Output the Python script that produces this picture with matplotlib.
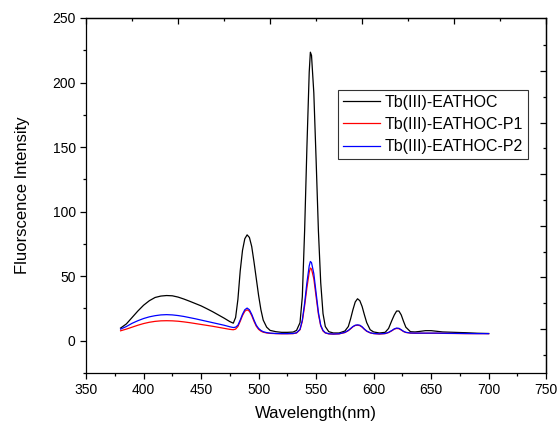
import matplotlib
matplotlib.use("Agg")
import matplotlib.pyplot as plt
from matplotlib.ticker import MultipleLocator, FixedLocator, NullFormatter

plt.rcParams['font.family'] = ['Liberation Sans', 'DejaVu Sans']

# wavelength grid (nm)
wavelength = [380, 385, 390, 395, 400, 405, 410, 415, 420, 425, 430, 435, 440, 445,
              450, 455, 460, 465, 470, 475, 478, 480, 482, 484, 486, 488, 490, 492,
              494, 496, 498, 500, 502, 504, 507, 510, 515, 520, 525, 530, 533, 536,
              538, 540, 542, 544, 545, 546, 548, 550, 552, 554, 556, 558, 561, 565,
              570, 575, 578, 580, 582, 584, 586, 588, 590, 592, 594, 597, 600, 605,
              610, 613, 616, 618, 620, 622, 624, 626, 628, 632, 636, 640, 645, 650,
              655, 660, 670, 680, 690, 700]

# Tb(III)-EATHOC
tb = [9.8, 13, 18, 23, 27.5, 31, 33.5, 34.6, 35, 34.8, 33.8, 32.3, 30.6, 28.8,
      27, 24.8, 22.5, 20, 17.5, 14.8, 13.6, 18, 32, 54, 70, 79, 82, 80,
      73, 61, 48, 35, 24, 16, 10.5, 8, 7, 6.5, 6.5, 6.7, 8, 14,
      34, 85, 150, 208, 223.5, 221, 192, 140, 85, 45, 21, 11, 7, 6,
      6, 7.5, 11, 17, 24, 30, 32.5, 31, 26.5, 20, 14, 8.5, 6.8, 6,
      6.5, 9.5, 16, 20, 23, 23, 20, 15, 10.5, 7, 6.8, 7.2, 7.8, 7.8,
      7.3, 6.8, 6.5, 6.2, 5.8, 5.6]

# Tb(III)-EATHOC-P1
p1 = [7.7, 9, 10.5, 12, 13.3, 14.3, 15, 15.4, 15.5, 15.4, 15.1, 14.6, 14, 13.3,
      12.6, 11.9, 11.2, 10.4, 9.6, 8.8, 8.5, 9, 11, 15, 19.5, 22.8, 24, 22.8,
      19.5, 15, 11.2, 8.8, 7.4, 6.6, 6, 5.7, 5.5, 5.4, 5.4, 5.5, 6, 8.5,
      15, 27, 41, 53, 56.3, 55.5, 48, 34, 20.5, 11.5, 7.5, 6, 5.3, 5.1,
      5.3, 6.3, 7.8, 9.2, 10.8, 11.8, 12, 11.7, 10.5, 8.8, 7.3, 6.1, 5.5, 5.2,
      5.5, 6.3, 7.8, 9, 9.5, 9.3, 8.3, 7.1, 6.4, 5.9, 5.8, 5.8, 5.8, 5.8,
      5.8, 5.7, 5.6, 5.5, 5.5, 5.5]

# Tb(III)-EATHOC-P2
p2 = [9, 11, 13.5, 15.5, 17.2, 18.5, 19.4, 20, 20.2, 20, 19.5, 18.8, 17.9, 17,
      16, 15, 14, 13, 12, 10.8, 10.2, 10.5, 12, 16, 20.5, 24, 25.3, 24,
      20.5, 16, 12, 9.5, 8, 7, 6.3, 5.9, 5.6, 5.5, 5.5, 5.6, 6.2, 8.8,
      16, 29, 45, 58, 61.4, 60.5, 52, 37, 22, 12, 8, 6.2, 5.4, 5.2,
      5.4, 6.5, 8, 9.5, 11, 12, 12.3, 12, 10.8, 9, 7.5, 6.2, 5.6, 5.3,
      5.6, 6.5, 8, 9.2, 9.8, 9.6, 8.5, 7.3, 6.5, 6, 5.9, 5.9, 5.9, 5.9,
      5.9, 5.8, 5.7, 5.6, 5.5, 5.5]

fig = plt.figure(figsize=(5.59, 4.28), dpi=100)
ax = fig.add_axes([0.154, 0.1285, 0.823, 0.8295])

ax.plot(wavelength, tb, color='black', lw=0.9, label='Tb(III)-EATHOC')
ax.plot(wavelength, p1, color='red', lw=0.9, label='Tb(III)-EATHOC-P1')
ax.plot(wavelength, p2, color='blue', lw=0.9, label='Tb(III)-EATHOC-P2')

ax.set_xlim(350, 750)
ax.set_ylim(-25, 250)
ax.xaxis.set_major_locator(MultipleLocator(50))
ax.xaxis.set_minor_locator(MultipleLocator(25))
ax.yaxis.set_major_locator(FixedLocator([0, 50, 100, 150, 200, 250]))
ax.yaxis.set_minor_locator(FixedLocator([-25, 25, 75, 125, 175, 225]))
ax.tick_params(which='both', direction='out', labelsize=10, width=0.9)
ax.tick_params(which='major', length=4)
ax.tick_params(which='minor', length=2.5)
for s in ax.spines.values():
    s.set_linewidth(0.9)

# mirrored axes with their own inward ticks
top = ax.secondary_xaxis('top')
top.xaxis.set_major_locator(FixedLocator([350, 430, 510, 590, 670, 750]))
top.xaxis.set_minor_locator(FixedLocator([390, 470, 550, 630, 710]))
top.xaxis.set_major_formatter(NullFormatter())
top.tick_params(which='both', direction='in', width=0.9)
top.tick_params(which='major', length=4)
top.tick_params(which='minor', length=2.5)
top.spines['top'].set_linewidth(0.9)

right = ax.secondary_yaxis('right')
right.yaxis.set_major_locator(FixedLocator([9, 49, 89, 129, 169, 209]))
right.yaxis.set_minor_locator(FixedLocator([-11, 29, 69, 109, 149, 189, 229]))
right.yaxis.set_major_formatter(NullFormatter())
right.tick_params(which='both', direction='in', width=0.9)
right.tick_params(which='major', length=4)
right.tick_params(which='minor', length=2.5)
right.spines['right'].set_linewidth(0.9)

ax.set_xlabel('Wavelength(nm)', fontsize=12, labelpad=6)
ax.set_ylabel('Fluorscence Intensity', fontsize=12, labelpad=16)

leg = ax.legend(loc='upper left', bbox_to_anchor=(0.548, 0.797), borderaxespad=0,
                fontsize=11.5, frameon=True, fancybox=False, handlelength=2.3,
                handletextpad=0.3, borderpad=0.3, labelspacing=0.45)
leg.get_frame().set_edgecolor('black')
leg.get_frame().set_linewidth(0.8)

fig.savefig('out.png', dpi=100)
